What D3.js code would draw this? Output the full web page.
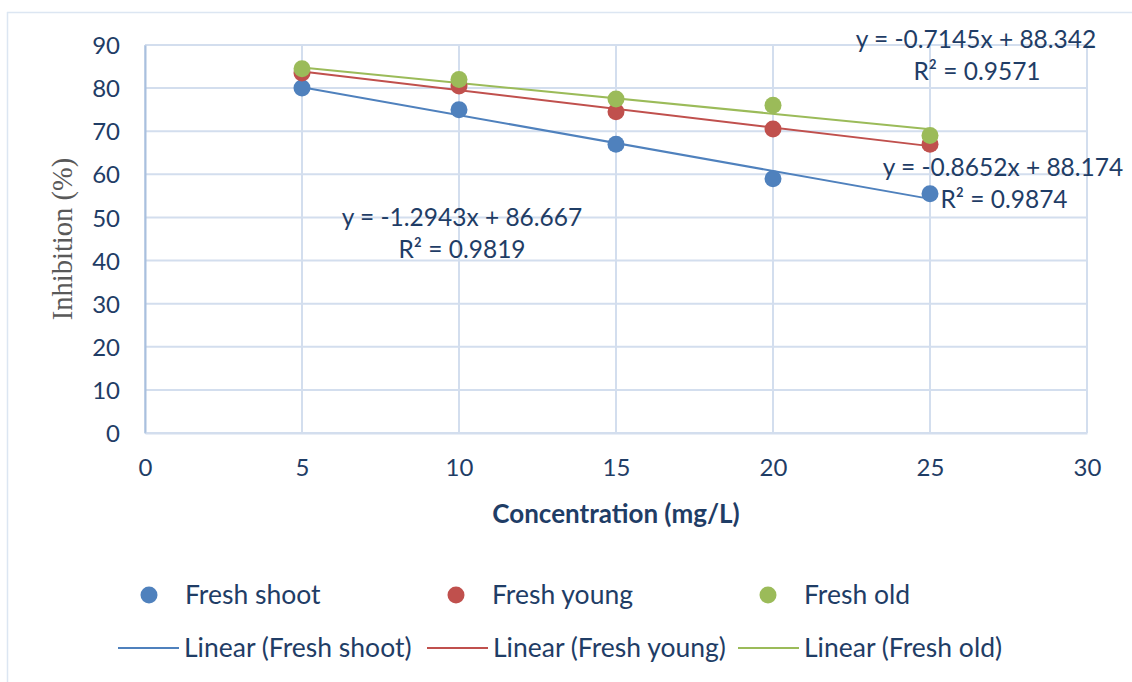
<!DOCTYPE html>
<html>
<head>
<meta charset="utf-8">
<script src="https://cdn.jsdelivr.net/npm/d3@7"></script>
<style>
  body { margin: 0; background: #fff; }
  text { font-family: Lato, "Open Sans", sans-serif; }
</style>
</head>
<body>
<div id="chart-area"></div>
<script>
// data
var concentrations = [5, 10, 15, 20, 25];
var freshShoot = [80, 75, 67, 59, 55.5];
var freshYoung = [83.5, 80.5, 74.5, 70.5, 67];
var freshOld = [84.5, 82, 77.5, 76, 69];
var seriesNames = ["Fresh shoot", "Fresh young", "Fresh old"];
var slopes = [-1.2943, -0.8652, -0.7145];
var intercepts = [86.667, 88.174, 88.342];
var rSquared = ["0.9819", "0.9874", "0.9571"];
var xTicks = [0, 5, 10, 15, 20, 25, 30];
var yTicks = [0, 10, 20, 30, 40, 50, 60, 70, 80, 90];

var colors = ["#4f81bd", "#c0504d", "#9bbb59"];
var textColor = "#1f3d66";
var gridColor = "#d3deee";

var width = 1132, height = 682;
var margin = {top: 45, right: 45, bottom: 249, left: 145};
var w = width - margin.left - margin.right;
var h = height - margin.top - margin.bottom;

var svg = d3.select("#chart-area").append("svg")
    .attr("width", width)
    .attr("height", height);

// chart frame (top and left edges only visible)
svg.append("line").attr("x1", 7).attr("x2", width).attr("y1", 12.5).attr("y2", 12.5)
    .attr("stroke", "#dce6f2").attr("stroke-width", 1.5);
svg.append("line").attr("x1", 7.5).attr("x2", 7.5).attr("y1", 12).attr("y2", height)
    .attr("stroke", "#dce6f2").attr("stroke-width", 1.5);

var g = svg.append("g").attr("transform", "translate(" + margin.left + "," + margin.top + ")");

var x = d3.scaleLinear().domain([0, 30]).range([0, w]);
var y = d3.scaleLinear().domain([0, 90]).range([h, 0]);

// gridlines
g.append("g")
  .selectAll("line.hgrid")
  .data(yTicks)
  .enter().append("line")
    .attr("x1", 0).attr("x2", w)
    .attr("y1", (d) => y(d)).attr("y2", (d) => y(d))
    .attr("stroke", gridColor).attr("stroke-width", 2);
g.append("g")
  .selectAll("line.vgrid")
  .data(xTicks)
  .enter().append("line")
    .attr("x1", (d) => x(d)).attr("x2", (d) => x(d))
    .attr("y1", 0).attr("y2", h)
    .attr("stroke", gridColor).attr("stroke-width", 2);

// axes
var leftAxis = d3.axisLeft(y).tickValues(yTicks).tickSize(0).tickPadding(25);
var ya = g.append("g").attr("class", "left axis").call(leftAxis);
ya.select(".domain").attr("stroke", "#a9c0de").attr("stroke-width", 2);
ya.selectAll("text").attr("font-size", "24px").attr("fill", textColor).attr("dy", "0.36em");

var bottomAxis = d3.axisBottom(x).tickValues(xTicks).tickSize(0).tickPadding(26);
var xa = g.append("g").attr("class", "bottom axis")
    .attr("transform", "translate(0," + h + ")").call(bottomAxis);
xa.select(".domain").attr("stroke", gridColor).attr("stroke-width", 2);
xa.selectAll("text").attr("font-size", "24px").attr("fill", textColor);

// axis labels
svg.append("text")
    .attr("x", 616)
    .attr("y", 523)
    .attr("text-anchor", "middle")
    .attr("font-size", "26px")
    .attr("font-weight", "bold")
    .attr("fill", textColor)
    .text("Concentration (mg/L)");

svg.append("text")
    .attr("transform", "translate(72,239) rotate(-90)")
    .attr("text-anchor", "middle")
    .style("font-family", "'Liberation Serif', 'DejaVu Serif', serif")
    .attr("font-size", "28.5px")
    .attr("fill", "#595959")
    .text("Inhibition (%)");

var allSeries = [freshShoot, freshYoung, freshOld];

// trendlines
allSeries.forEach((s, i) => {
  var x0 = d3.min(concentrations), x1 = d3.max(concentrations);
  g.append("line")
    .attr("x1", x(x0)).attr("y1", y(slopes[i] * x0 + intercepts[i]))
    .attr("x2", x(x1)).attr("y2", y(slopes[i] * x1 + intercepts[i]))
    .attr("stroke", colors[i]).attr("stroke-width", 2);
});

// points
allSeries.forEach((s, i) => {
  g.selectAll("circle.s" + i)
    .data(s)
    .enter().append("circle")
      .attr("class", "s" + i)
      .attr("cx", (d, j) => x(concentrations[j]))
      .attr("cy", (d) => y(d))
      .attr("r", 8.5)
      .attr("fill", colors[i]);
});

// equation labels
var eqPos = [
  {x: 462, y: 226},
  {x: 1003, y: 176},
  {x: 976, y: 48}
];
var r2Pos = [
  {x: 462, y: 258},
  {x: 1004, y: 208},
  {x: 977, y: 80}
];
slopes.forEach((sl, i) => {
  svg.append("text")
    .attr("x", eqPos[i].x).attr("y", eqPos[i].y)
    .attr("text-anchor", "middle")
    .attr("font-size", "24.5px")
    .attr("fill", textColor)
    .text("y = " + sl + "x + " + intercepts[i]);
  svg.append("text")
    .attr("x", r2Pos[i].x).attr("y", r2Pos[i].y)
    .attr("text-anchor", "middle")
    .attr("font-size", "24.5px")
    .attr("fill", textColor)
    .text("R² = " + rSquared[i]);
});

// legend
var markerX = [149, 456, 768];
var lineX = [118, 427, 738];
seriesNames.forEach((name, i) => {
  svg.append("circle")
    .attr("cx", markerX[i]).attr("cy", 595).attr("r", 8.5)
    .attr("fill", colors[i]);
  svg.append("text")
    .attr("x", markerX[i] + 36).attr("y", 604)
    .attr("font-size", "26.5px").attr("fill", textColor)
    .text(name);
  svg.append("line")
    .attr("x1", lineX[i]).attr("x2", lineX[i] + 61)
    .attr("y1", 648).attr("y2", 648)
    .attr("stroke", colors[i]).attr("stroke-width", 2);
  svg.append("text")
    .attr("x", lineX[i] + 66).attr("y", 657)
    .attr("font-size", "26.5px").attr("fill", textColor)
    .text("Linear (" + name + ")");
});
</script>
</body>
</html>
